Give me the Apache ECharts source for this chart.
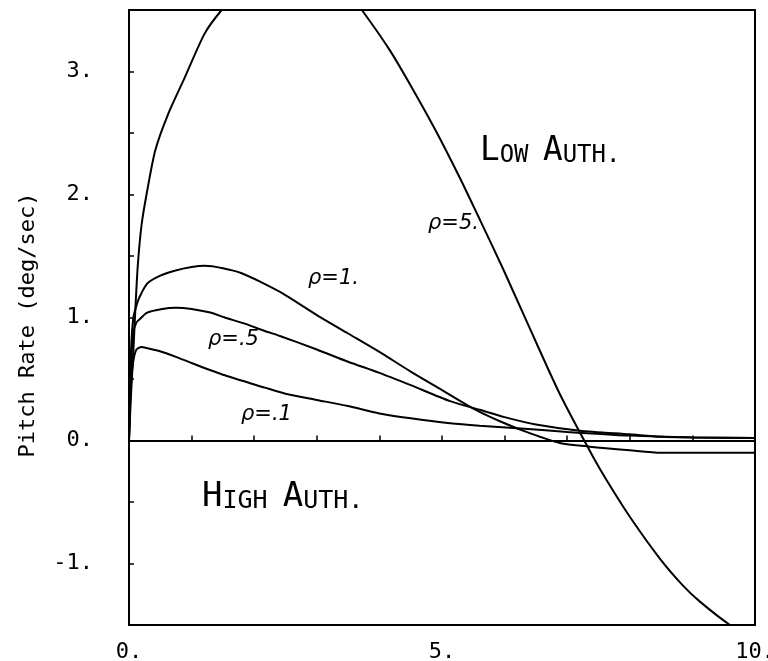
<!DOCTYPE html>
<html>
<head>
<meta charset="utf-8">
<script src="https://cdn.jsdelivr.net/npm/echarts@6/dist/echarts.min.js"></script>
<style>
  html, body { margin: 0; padding: 0; background: #fff; }
  #chart { width: 768px; height: 661px; }
</style>
</head>
<body>
<div id="chart"></div>
<script>
// Pitch-rate time histories for four values of the weighting parameter rho.
const timeRho5 = [0, 0.03, 0.07, 0.1, 0.14, 0.2, 0.28, 0.42, 0.63, 0.89, 1.21, 1.48, 2.0, 2.6, 3.2, 3.72, 4.17, 4.54, 4.92, 5.29, 5.61, 5.98, 6.36, 6.88, 7.41, 7.65, 8.0, 8.48, 8.85, 9.12, 9.6, 10];
const rateRho5 = [0, 0.35, 0.73, 1.05, 1.42, 1.75, 2.0, 2.36, 2.66, 2.95, 3.31, 3.5, 3.8, 3.95, 3.85, 3.5, 3.17, 2.85, 2.5, 2.13, 1.79, 1.39, 0.96, 0.38, -0.13, -0.34, -0.62, -0.96, -1.18, -1.31, -1.5, -1.62];

const timeRho1 = [0, 0.03, 0.07, 0.14, 0.2, 0.3, 0.5, 0.73, 1.0, 1.21, 1.5, 1.8, 2.1, 2.44, 3.0, 3.5, 4.0, 4.5, 5.0, 5.5, 6.0, 6.4, 6.88, 7.36, 8.0, 8.5, 9.0, 10];
const rateRho1 = [0, 0.7, 1.0, 1.13, 1.2, 1.28, 1.34, 1.38, 1.41, 1.42, 1.4, 1.36, 1.29, 1.2, 1.02, 0.87, 0.72, 0.56, 0.41, 0.26, 0.14, 0.06, -0.02, -0.05, -0.08, -0.1, -0.1, -0.1];

const timeRho05 = [0, 0.03, 0.07, 0.12, 0.18, 0.29, 0.53, 0.75, 1.0, 1.3, 1.53, 1.85, 2.17, 2.41, 3.0, 3.5, 4.0, 4.5, 5.13, 5.6, 6.0, 6.5, 7.2, 8.0, 8.5, 9.0, 10];
const rateRho05 = [0, 0.6, 0.88, 0.96, 0.99, 1.04, 1.07, 1.08, 1.07, 1.04, 1.0, 0.95, 0.89, 0.85, 0.74, 0.64, 0.55, 0.45, 0.32, 0.25, 0.19, 0.13, 0.08, 0.05, 0.03, 0.025, 0.02];

const timeRho01 = [0, 0.03, 0.07, 0.12, 0.2, 0.3, 0.47, 0.75, 1.0, 1.53, 2.17, 2.5, 3.0, 3.5, 4.0, 4.5, 5.13, 5.6, 6.2, 7.0, 8.0, 9.0, 10];
const rateRho01 = [0, 0.45, 0.65, 0.74, 0.76, 0.75, 0.73, 0.68, 0.63, 0.53, 0.43, 0.38, 0.33, 0.28, 0.22, 0.18, 0.14, 0.12, 0.1, 0.07, 0.04, 0.025, 0.02];

const xTickLabels = ['0.', '5.', '10.'];
const yAxisTitle = 'Pitch Rate (deg/sec)';

const pairs = (xs, ys) => xs.map((x, i) => [x, ys[i]]);

const chart = echarts.init(document.getElementById('chart'), null, { renderer: 'canvas' });

const tickFont = 'DejaVu Sans Mono';
const curveStyle = { color: '#000', width: 2 };

function curve(name, xs, ys) {
  return {
    name, type: 'line', data: pairs(xs, ys),
    showSymbol: false, smooth: 0.25,
    lineStyle: curveStyle, itemStyle: { color: '#000' },
    clip: true, silent: true, z: 3
  };
}

// hand-lettered curve tags and small-caps region labels
const rhoStyle = { fontFamily: 'DejaVu Sans', fontStyle: 'italic', fontSize: 21, fill: '#000' };
const capsRich = {
  b: { fontFamily: 'DejaVu Sans Mono', fontSize: 34, verticalAlign: 'bottom' },
  s: { fontFamily: 'DejaVu Sans Mono', fontSize: 25, verticalAlign: 'bottom' }
};

chart.setOption({
  animation: false,
  backgroundColor: '#fff',
  grid: {
    left: 129, top: 10, width: 626, height: 615,
    containLabel: false, outerBoundsMode: 'none',
    show: true, borderColor: '#000', borderWidth: 2, backgroundColor: 'transparent'
  },
  xAxis: {
    type: 'value', min: 0, max: 10, interval: 1,
    axisLine: { lineStyle: { color: '#000', width: 2 } },
    axisTick: { inside: true, length: 5, lineStyle: { color: '#000', width: 1.5 } },
    splitLine: { show: false },
    axisLabel: {
      margin: 16, color: '#000', fontFamily: tickFont, fontSize: 22,
      formatter: v => (v % 5 === 0 ? xTickLabels[v / 5] : '')
    }
  },
  yAxis: {
    type: 'value', min: -1.5, max: 3.5, interval: 0.5,
    axisLine: { lineStyle: { color: '#000', width: 2 } },
    axisTick: { inside: true, length: 5, lineStyle: { color: '#000', width: 1.5 } },
    splitLine: { show: false },
    axisLabel: {
      margin: 36, color: '#000', fontFamily: tickFont, fontSize: 22,
      formatter: v => (Number.isInteger(v) ? v + '.' : '')
    }
  },
  series: [
    curve('rho=5', timeRho5, rateRho5),
    curve('rho=1', timeRho1, rateRho1),
    curve('rho=.5', timeRho05, rateRho05),
    curve('rho=.1', timeRho01, rateRho01)
  ],
  graphic: [
    {
      type: 'text', x: 28, y: 325, rotation: Math.PI / 2,
      style: { text: yAxisTitle, fontFamily: tickFont, fontSize: 22, fill: '#000', align: 'center', verticalAlign: 'middle' }
    },
    { type: 'text', x: 428, y: 213, style: Object.assign({ text: 'ρ=5.' }, rhoStyle) },
    { type: 'text', x: 308, y: 268, style: Object.assign({ text: 'ρ=1.' }, rhoStyle) },
    { type: 'text', x: 208, y: 329, style: Object.assign({ text: 'ρ=.5' }, rhoStyle) },
    { type: 'text', x: 241, y: 404, style: Object.assign({ text: 'ρ=.1' }, rhoStyle) },
    {
      type: 'text', x: 480, y: 168, scaleX: 0.96,
      style: { text: '{b|L}{s|OW }{b|A}{s|UTH.}', fill: '#000', verticalAlign: 'bottom', rich: capsRich }
    },
    {
      type: 'text', x: 202, y: 514,
      style: { text: '{b|H}{s|IGH }{b|A}{s|UTH.}', fill: '#000', verticalAlign: 'bottom', rich: capsRich }
    }
  ]
});
</script>
</body>
</html>
